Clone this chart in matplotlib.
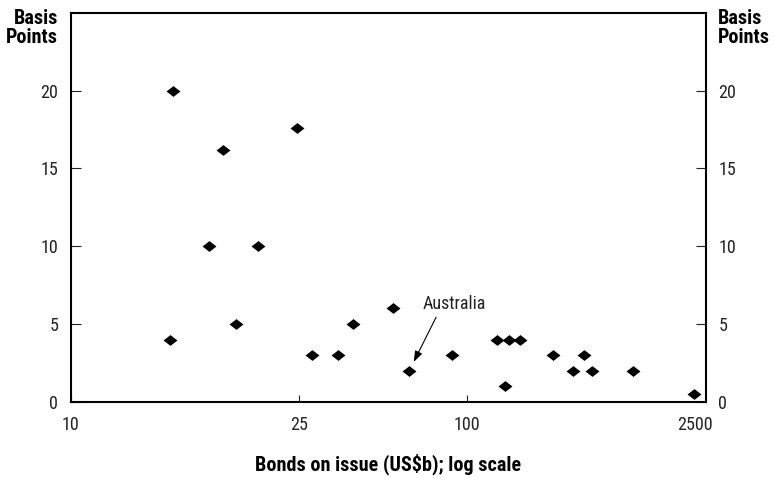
import numpy as np
import matplotlib
matplotlib.use("Agg")
import matplotlib.pyplot as plt
from matplotlib.path import Path

# ---- data ----
bonds_usd_b = [15.1, 24.8, 18.4, 17.4, 21.2, 14.9, 19.4, 39.0, 27.7, 34.4,
               54.0, 62.0, 87.9, 153, 179.5, 210.6, 170, 337, 444, 520,
               583, 1036, 2450]
basis_points = [20, 17.6, 16.2, 10, 10, 4, 5, 5, 3, 3,
                6, 2, 3, 4, 4, 4, 1, 3, 2, 3,
                2, 2, 0.5]
australia = (62.0, 2)
x_ticks = [10, 25, 100, 2500]
x_ticklabels = ["10", "25", "100", "2500"]
y_ticks = [0, 5, 10, 15, 20]

FONT = ["Roboto Condensed", "DejaVu Sans"]
plt.rcParams["font.family"] = FONT

# piecewise log scale as drawn in the original chart
anchor_logs = np.array([1.0, np.log10(25), 2.0, np.log10(2500), np.log10(2500) + 1.398])
anchor_pos = np.array([0.0, 228.6, 396.6, 624.3, 852.0])


def fwd(x):
    x = np.asarray(x, dtype=float)
    lx = np.log10(np.clip(x, 1e-6, None))
    return np.interp(lx, anchor_logs, anchor_pos)


def inv(p):
    p = np.asarray(p, dtype=float)
    return 10 ** np.interp(p, anchor_pos, anchor_logs)


fig = plt.figure(figsize=(7.74, 4.78), dpi=100)
ax = fig.add_axes([0.0913, 0.1596, 0.8208, 0.8132])
ax.set_xscale("function", functions=(fwd, inv))

diamond = Path([(-1, 0), (0, 0.78), (1, 0), (0, -0.78), (-1, 0)],
               [Path.MOVETO, Path.LINETO, Path.LINETO, Path.LINETO, Path.CLOSEPOLY])
ax.plot(bonds_usd_b, basis_points, linestyle="none", marker=diamond,
        markersize=10, color="black", markeredgewidth=0)

ax.set_xlim(10, inv(635.3))
ax.set_ylim(0, 25)
ax.set_xticks(x_ticks)
ax.set_xticklabels(x_ticklabels)
ax.xaxis.set_minor_locator(matplotlib.ticker.NullLocator())
ax.set_yticks(y_ticks)

for s in ax.spines.values():
    s.set_linewidth(1.5)
    s.set_color("black")

ax.tick_params(axis="y", direction="in", length=7, width=0.8, labelsize=13,
               pad=9, left=True, right=True, labelleft=True, labelright=True,
               colors="#222222")
ax.tick_params(axis="x", direction="in", length=5, width=0.8, labelsize=13,
               pad=10, colors="#222222")
ticks = ax.xaxis.get_major_ticks()
ticks[-1].tick1line.set_visible(False)

ax.set_xlabel("Bonds on issue (US\\$b); log scale", fontsize=14.5,
              fontweight="bold", labelpad=14)

fig.text(0.075, 0.982, "Basis\nPoints", ha="right", va="top", fontsize=14.5,
         fontweight="bold", linespacing=1.0)
fig.text(0.928, 0.982, "Basis\nPoints", ha="left", va="top", fontsize=14.5,
         fontweight="bold", linespacing=1.0)

ax.annotate("Australia", xy=australia, xytext=(89.6, 6.27),
            ha="center", va="center", fontsize=13, color="#222222",
            arrowprops=dict(arrowstyle="-|>,head_length=0.5,head_width=0.18",
                            color="black", lw=0.8, shrinkA=1, shrinkB=7,
                            relpos=(0.25, 0.0)))

fig.savefig("out.png", dpi=100)
